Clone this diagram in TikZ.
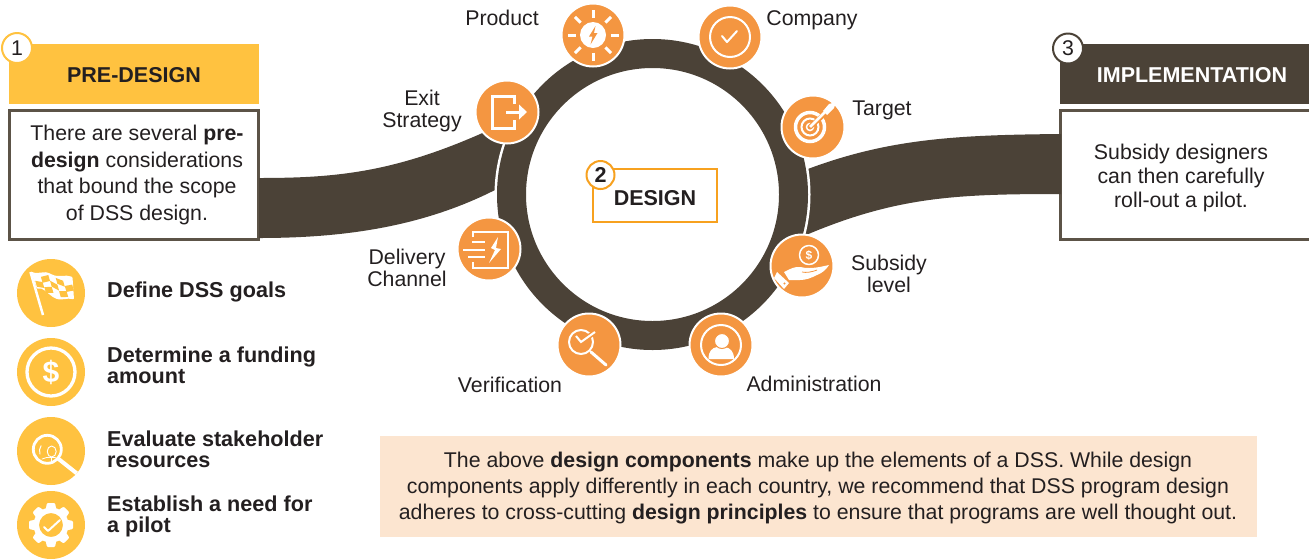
\documentclass[tikz,border=0pt]{standalone}
\usepackage{fontspec}
\setmainfont{Liberation Sans}
\definecolor{dk}{HTML}{4B4237}
\definecolor{bd}{HTML}{5C5347}
\definecolor{yl}{HTML}{FFC240}
\definecolor{og}{HTML}{F49641}
\definecolor{ob}{HTML}{F7A11F}
\definecolor{tx}{HTML}{231F20}
\definecolor{pch}{HTML}{FCE5D0}
\tikzset{
 every node/.style={text=tx,inner sep=0pt,align=center},
 lab/.style={font=\fontsize{21.3}{#1}\selectfont},
 lab/.default=22,
 hd/.style={font=\fontsize{21.5}{22}\selectfont\bfseries},
 icn/.style={circle,fill=og,draw=white,line width=2pt,minimum size=63pt},
 ylc/.style={circle,fill=yl,minimum size=68pt},
 numc/.style={circle,fill=white,line width=2pt,minimum size=30pt,font=\fontsize{21.3}{22}\selectfont},
 lst/.style={anchor=west,align=left,font=\fontsize{21.6}{21}\selectfont\bfseries},
 wl/.style={draw=white,line width=#1,line cap=round,line join=round,fill=none},
 wl/.default=2.5pt,
 bx/.style={draw=bd,line width=2.5pt,fill=white,minimum width=249pt,minimum height=129pt},
}
\begin{document}
\begin{tikzpicture}[x=1pt,y=-1pt]
\useasboundingbox (0,0) rectangle (1309,558);
\coordinate (ring) at (652.5,194.5);
% left header and box
\node[fill=yl,minimum width=250pt,minimum height=60pt,hd] (pre) at (134,74) {\raisebox{-8pt}[0pt][0pt]{PRE-DESIGN}};
\node[bx] (prebox) at (134,175) {};
\node[lab=26.7] (pretext) at (137,175) {There are several \textbf{pre-}\\\textbf{design} considerations\\that bound the scope\\of DSS design.};
\node[numc,draw=yl] (n1) at (17,48) {1};
% right header and box
\node[fill=dk,text=white,minimum width=249pt,minimum height=60pt,hd] (imp) at (1184.5,74) {\hspace{15pt}\raisebox{-8pt}[0pt][0pt]{IMPLEMENTATION}};
\node[bx,minimum width=250pt] (impbox) at (1185.5,175) {};
\node[lab=24] (imptext) at (1181,178) {Subsidy designers\\can then carefully\\roll-out a pilot.};
\node[numc,draw=dk] (n3) at (1068,48.5) {3};
% bands
\fill[dk] (259,178) .. controls (340,178) and (400,172) .. (500,125) -- (510,190) -- (495,190) .. controls (420,228) and (340,238) .. (259,238) -- cycle;
\fill[dk] (1061,134) .. controls (950,135) and (880,139) .. (790,176) -- (790,242) .. controls (890,197) and (950,194) .. (1061,194) -- cycle;
% ring
\fill[white] (ring) circle[radius=158pt];
\fill[dk,even odd rule] (ring) circle[radius=155.5pt] (ring) circle[radius=126.5pt];
% centre box
\node[draw=ob,line width=2pt,fill=white,minimum width=124pt,minimum height=53pt,hd] (des) at (655,195) {\raisebox{-10pt}[0pt][0pt]{DESIGN}};
\node[circle,draw=ob,fill=white,line width=2pt,minimum size=28pt,font=\fontsize{21.5}{22}\selectfont\bfseries] (n2) at (600.5,175) {2};
% orange icons
\node[icn] (iprod) at (593,35) {};
\node[icn] (icomp) at (730,37) {};
\node[icn] (itarg) at (813,127) {};
\node[icn] (isub) at (802,266) {};
\node[icn] (iadm) at (721,345) {};
\node[icn] (iver) at (589,345) {};
\node[icn] (idel) at (489,249) {};
\node[icn] (iexit) at (507,112) {};
% product
\begin{scope}[shift={(593,35)}]
\fill[white] (0,0) circle[radius=13pt];
\foreach \a in {0,45,...,315} \draw[white,line width=3pt] (\a:17.5) -- (\a:25.5);
\fill[og] (2.5,-9) -- (-4,1.5) -- (-0.5,1.5) -- (-2.5,9.5) -- (4.5,-2) -- (1,-2) -- cycle;
\end{scope}
% company
\begin{scope}[shift={(730,37)}]
\draw[wl=2pt] (0,0) circle[radius=20pt];
\draw[wl=2pt] (-8,-1) -- (-3,5) -- (7,-6);
\end{scope}
% target
\begin{scope}[shift={(813,127)}]
\begin{scope}[shift={(-3,0)}]
\draw[white,line width=3.5pt] (0,0) circle[radius=14.5pt];
\draw[white,line width=2pt] (0,0) circle[radius=8.5pt];
\draw[white,line width=1.5pt] (0,0) circle[radius=3.5pt];
\draw[og,line width=5pt] (0,0) -- (20,-18);
\draw[white,line width=2.5pt] (0,0) -- (17,-17);
\fill[white] (13,-16) -- (19,-23) -- (26,-25) -- (24,-19) -- (17,-12) -- cycle;
\end{scope}
\end{scope}
% subsidy
\begin{scope}[shift={(802,266)}]
\draw[wl=1.5pt] (7,-11) circle[radius=9.5pt];
\node[font=\fontsize{12}{12}\selectfont\bfseries,text=white] (dl1) at (7,-11) {\$};
\fill[white] (-18,6) .. controls (-10,2) and (-8,1) .. (-3,1) .. controls (2,1) and (4,3) .. (8,2) .. controls (15,2) and (22,0) .. (27,-1) .. controls (24,4) and (20,7) .. (15,9) .. controls (9,12) and (4,14) .. (-2,14) -- (-13,14) -- cycle;
\draw[og,line width=.8pt] (0,6) .. controls (4,7) and (10,6) .. (15,4);
\fill[white] (-25,6) -- (-13,17) -- (-18,23) -- (-28,12) -- cycle;
\fill[og] (-17.5,17.5) circle[radius=1.2pt];
\end{scope}
% administration
\begin{scope}[shift={(721,345)}]
\draw[wl=2pt] (0,0) circle[radius=20pt];
\fill[white] (-12.5,14) .. controls (-12.5,6) and (-9,3) .. (-4,2) -- (4,2) .. controls (9,3) and (13,6) .. (13,14) -- cycle;
\fill[white,draw=og,line width=1pt] (1,-4) circle[radius=7.5pt];
\end{scope}
% verification
\begin{scope}[shift={(589,345)}]
\draw[wl=2pt] (-8,-3) circle[radius=12pt];
\draw[wl=3pt] (2,7) -- (17,20);
\draw[og,line width=5pt] (-8,-3) -- (6,-13);
\draw[white,line width=2pt] (-13,-9) -- (-8,-3) -- (6,-13);
\end{scope}
% delivery
\begin{scope}[shift={(489,249)}]
\draw[white,line width=2.5pt] (-16,-12) -- (-16,-17) -- (19,-17) -- (19,19) -- (-16,19) -- (-16,13);
\draw[white,line width=2.5pt] (-17,-7) -- (-4,-7) (-26,1) -- (-4,1) (-21,8) -- (-4,8);
\fill[white] (9,-12) -- (2,-1) -- (6,1) -- (0,14) -- (12,0) -- (7,-1) -- cycle;
\end{scope}
% exit
\begin{scope}[shift={(507,112)}]
\draw[white,line width=3pt] (7,-8) -- (7,-16) -- (-15,-16) -- (-15,16) -- (7,16) -- (7,8);
\draw[white,line width=3pt] (-1,0) -- (13,0);
\fill[white] (12,-7.5) -- (20,0) -- (12,7.5) -- cycle;
\end{scope}
% labels
\node[lab] (lprod) at (502,18) {Product};
\node[lab] (lcomp) at (812,20) {Company};
\node[lab] (ltarg) at (882,110) {Target};
\node[lab] (lexit) at (422,111) {Exit\\Strategy};
\node[lab] (ldel) at (407,268) {Delivery\\Channel};
\node[lab] (lsub) at (889,274) {Subsidy\\level};
\node[lab] (lver) at (510,384.5) {Verification};
\node[lab] (ladm) at (814,384) {Administration};
% yellow list
\node[ylc] (y1) at (51,293) {};
\node[ylc] (y2) at (51,372) {};
\node[ylc] (y3) at (51,451) {};
\node[ylc] (y4) at (51,525) {};
\node[lst] (t1) at (107,292) {Define DSS goals};
\node[lst] (t2) at (107,365.5) {Determine a funding\\amount};
\node[lst] (t3) at (107,449.5) {Evaluate stakeholder\\resources};
\node[lst] (t4) at (107,516) {Establish a need for\\a pilot};
% flag
\begin{scope}[shift={(51,293)}]
\fill[white,rounded corners=1pt] (-20,-21.5) .. controls (-12,-18) and (-8,-23) .. (0,-19) .. controls (8,-15) and (14,-19) .. (21.5,-16) -- (23,6.5) .. controls (16,4) and (10,9) .. (2,4) .. controls (-4,0) and (-8,-6) .. (-14,-4) -- cycle;
\draw[white,line width=2.5pt] (-20.5,-21) -- (-8,22);
\foreach \i/\j in {1/0,3/0,0/1,2/1,4/1,1/2,3/2} {
 \pgfmathsetmacro{\px}{-17.5+7.4*\i+1.7*\j}
 \pgfmathsetmacro{\py}{-19+1.3*\i+5.9*\j+1.8*sin(\i*120+\j*30)}
 \pgfmathsetmacro{\qy}{-19+1.3*(\i+1)+5.9*\j+1.8*sin((\i+1)*120+\j*30)}
 \fill[yl] (\px,\py) -- (\px+7.4,\qy) -- (\px+9.1,\qy+5.9) -- (\px+1.7,\py+5.9) -- cycle;
}
\end{scope}
% dollar
\begin{scope}[shift={(51,372)}]
\draw[wl=3.3pt] (0,0) circle[radius=24pt];
\node[font=\fontsize{30}{30}\selectfont\bfseries,text=white] (dl2) at (0,0) {\$};
\end{scope}
% magnifier
\begin{scope}[shift={(51,451)}]
\draw[wl=2.8pt] (-3.7,-1.7) circle[radius=14pt];
\draw[wl=4pt,line cap=butt] (7,7.5) -- (25.7,22.3);
\draw[wl=1pt] (-11,3) arc[start angle=200,end angle=145,radius=9pt];
\draw[wl=.9pt] (0.7,0.5) ellipse[x radius=4.5pt,y radius=5.5pt];
\draw[wl=.8pt] (-9,8) .. controls (-6,6.5) and (-3,6) .. (0.7,6.5) .. controls (4,6) and (6,7) .. (7,8.5);
\draw[wl=.8pt] (0.7,7) -- (0.7,11);
\end{scope}
% gear
\begin{scope}[shift={(51,525)}]
\foreach \a in {0,45,...,315} \fill[white,rotate=\a,rounded corners=1pt] (-4,-22) -- (4,-22) -- (5.5,-15) -- (-5.5,-15) -- cycle;
\fill[white,even odd rule] (0,0) circle[radius=17.5pt] (0,0) circle[radius=12pt];
\draw[wl=2pt] (-7,2) -- (-3,6) -- (9,-5);
\end{scope}
% note
\node[fill=pch,minimum width=877pt,minimum height=101pt] (note) at (818.5,486.5) {};
\node[lab=26] (ntext) at (818,488) {The above \textbf{design components} make up the elements of a DSS. While design\\components apply differently in each country, we recommend that DSS program design\\adheres to cross-cutting \textbf{design principles} to ensure that programs are well thought out.};
\end{tikzpicture}
\end{document}
